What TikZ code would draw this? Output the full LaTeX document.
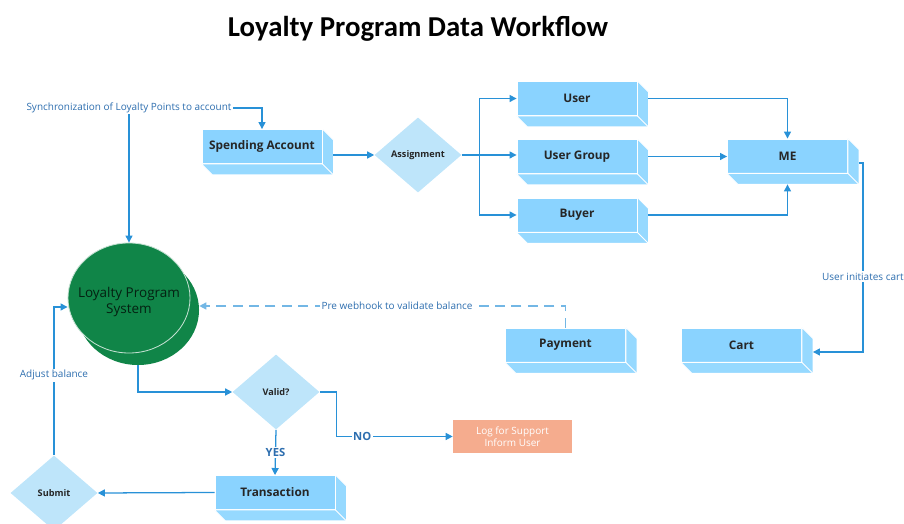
\documentclass[tikz,border=0pt]{standalone}
\usepackage{fontspec}
\setmainfont{Open Sans}
\newfontfamily\headfont{Carlito}
\usetikzlibrary{arrows.meta,shapes.geometric}

\definecolor{boxface}{RGB}{138,211,255}
\definecolor{boxside}{RGB}{150,217,255}
\definecolor{decfill}{RGB}{190,229,250}
\definecolor{linecol}{RGB}{40,145,215}
\definecolor{lblcol}{RGB}{45,110,175}
\definecolor{loyal}{RGB}{16,133,72}
\definecolor{logfill}{RGB}{245,172,142}

% depth of the box sides, in px
\newcommand{\dep}{11}

\begin{document}
\begin{tikzpicture}[
      x=0.025cm, y=0.025cm,
      >={Triangle[length=5pt,width=5pt]},
      link/.style={draw=linecol, line width=0.9pt},
      dashlink/.style={link, draw=linecol!65, dash pattern=on 2.5mm off 1.6mm},
      box/.style={rectangle, fill=boxface, draw=white, line width=0.6pt,
        minimum width=3cm, minimum height=0.85cm, inner sep=0,
        font=\fontsize{8.4}{10}\selectfont\bfseries, text=black!85},
      decision/.style={diamond, fill=decfill, minimum width=2.175cm,
        minimum height=1.875cm, inner sep=0,
        font=\fontsize{6.5}{8}\selectfont\bfseries, text=black!85},
      lbl/.style={font=\fontsize{7.1}{8.5}\selectfont, text=lblcol,
        fill=white, inner sep=1pt},
      yesno/.style={font=\fontsize{8}{9.6}\selectfont\bfseries, text=lblcol,
        fill=white, inner sep=1pt}
    ]
    \useasboundingbox (0,0) rectangle (904,524);

    \node[font=\headfont\fontsize{20.5}{24}\selectfont\bfseries] (title)
      at (418,495) {Loyalty Program Data Workflow};

    % ══ boxes ═════════════════════════════════════════════════════════════
    \node[box] (spend)   at (262,377.5) {Spending Account};
    \node[box] (user)    at (577,425.5) {User};
    \node[box] (group)   at (577,367.5) {User Group};
    \node[box] (buyer)   at (577,309)   {Buyer};
    \node[box] (me)      at (787.5,368) {ME};
    \node[box] (payment) at (565.5,179) {Payment};
    \node[box] (cart)    at (741.5,179) {Cart};
    \node[box] (trans)   at (275,31.5)  {Transaction};

    % side and bottom faces
    \foreach \n in {spend,user,group,buyer,me,payment,cart,trans} {
      \filldraw[fill=boxside, draw=white, line width=0.6pt]
        (\n.north east) -- ++(\dep,-\dep)
        -- ([shift={(\dep,-\dep)}]\n.south east)
        -- ([shift={(\dep,-\dep)}]\n.south west)
        -- (\n.south west) -- (\n.south east) -- cycle;
      \draw[white, line width=0.6pt] (\n.south east) -- ++(\dep,-\dep);
    }

    % ══ decisions ═════════════════════════════════════════════════════════
    \node[decision] (assign) at (418,369) {Assignment};
    \node[decision] (valid)  at (276,132) {Valid?};
    \node[decision] (submit) at (54,31)   {Submit};

    % loyalty system (stacked ellipses)
    \node[ellipse, fill=loyal, minimum width=3.05cm, minimum height=2.75cm,
      inner sep=0] (loyaltyback) at (138,214) {};
    \node[ellipse, fill=loyal, draw=white!75!loyal, line width=0.6pt,
      minimum width=3.05cm, minimum height=2.75cm, inner sep=0,
      label={[yshift=-0.1cm, align=center, font=\fontsize{9.6}{11.5}\selectfont,
        text=black!75!loyal]center:{Loyalty Program\\System}}]
      (loyalty) at (129,226) {};

    \node[fill=logfill, minimum width=2.975cm, minimum height=0.825cm,
      inner sep=0, align=center, text=white,
      font=\fontsize{7.1}{8.5}\selectfont] (log) at (512.5,87.5)
      {Log for Support\\Inform User};

    % ══ connectors ════════════════════════════════════════════════════════
    \coordinate (sync) at (129,416);
    \draw[link,<->] (loyalty.north) -- (sync) -| (spend.north);
    \node[lbl] (synclbl) at (sync) {Synchronization of Loyalty Points to account};

    \draw[link,->] (spend.east |- assign) ++(\dep,0) -- (assign.west);
    \draw[link,->] (assign.east) -- ++(18,0) |- (user.west);
    \draw[link,->] (assign.east) -- (assign.east -| group.west);
    \draw[link,->] (assign.east) -- ++(18,0) |- (buyer.west);

    \draw[link,->] (user.east) ++(\dep,0) -| (me.north);
    \draw[link,->] (group.east) ++(\dep,0) -- (group.east -| me.west);
    \draw[link,->] (buyer.east) ++(\dep,0) -| ([shift={(0,-\dep)}]me.south);

    \draw[link,->] ([shift={(\dep,-7)}]me.east) -- ++(4,0)
      |- node[lbl, pos=0.3] (cartlbl) {User initiates cart}
      ([shift={(\dep,-7)}]cart.east);

    \draw[dashlink,->] (payment.north)
      |- node[lbl, pos=0.73] (hooklbl) {Pre webhook to validate balance}
      ([yshift=0.1cm]loyaltyback.east);

    \draw[link,->] (loyaltyback.south) |- (valid.west);
    \draw[link,->] (valid.east) -- ++(17,0)
      |- node[yesno, pos=0.61] (nolbl) {NO} (log.west);
    \draw[link,->] (valid.south) -- node[yesno] (yeslbl) {YES} (trans.north);
    \draw[link,->] (trans.west) -- (submit.east);
    \draw[link,->] (submit.north)
      |- node[lbl, pos=0.27] (adjlbl) {Adjust balance}
      ([yshift=-0.225cm]loyalty.west);

  \end{tikzpicture}
\end{document}
